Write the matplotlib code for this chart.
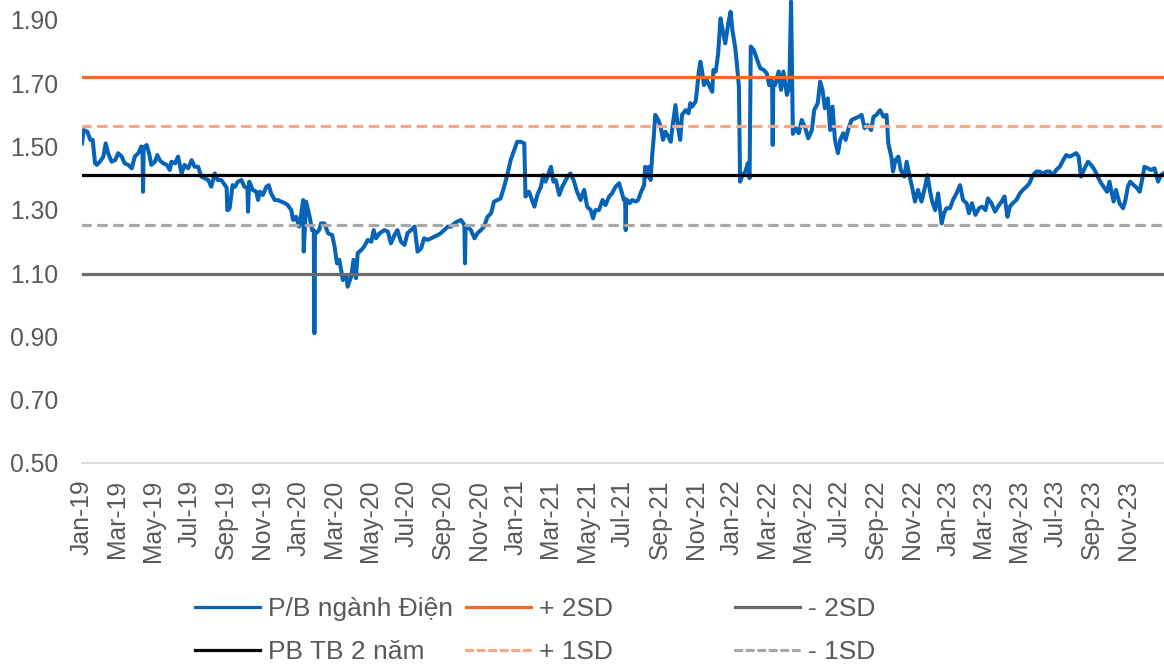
import numpy as np
import pandas as pd
import matplotlib
matplotlib.use('Agg')
import matplotlib.pyplot as plt
from matplotlib.lines import Line2D

plt.rcParams['font.family'] = ['Liberation Sans', 'DejaVu Sans']

# ---------------- data ----------------
start_date = np.datetime64('2019-01-01')

day_offset = [
    0, 3, 9, 14, 18, 22, 25, 30, 36, 40, 44, 50, 56, 61, 67, 72, 78, 84, 89, 95,
    100, 102, 103, 104, 106, 109, 113, 117, 123, 127, 131, 137, 143, 148, 151, 157, 162, 168, 173, 179,
    185, 190, 196, 201, 207, 213, 218, 224, 229, 235, 241, 244, 245, 247, 249, 254, 258, 263, 269, 274,
    279, 280, 282, 288, 294, 297, 300, 305, 311, 315, 319, 325, 330, 336, 342, 347, 353, 356, 361, 366,
    370, 373, 374, 378, 384, 388, 391, 392, 393, 395, 400, 403, 409, 415, 422, 426, 430, 434, 440, 446,
    448, 454, 458, 462, 465, 471, 476, 482, 488, 492, 496,
    502, 510, 516, 521, 527, 532, 538, 544, 549, 555, 561, 566, 572, 577, 583, 589, 594, 600, 605, 611,
    617, 622, 628, 633, 639, 644, 645, 646, 647, 649, 656, 662, 667, 673, 678, 684, 690, 695, 701, 706,
    712, 718, 723, 729, 734, 740, 746, 748, 754, 759, 763, 768, 774, 778, 782, 787, 791, 795, 799, 805,
    810, 816, 821, 824, 830, 835, 841, 847, 852, 858, 862, 866, 872, 878, 883, 889, 894, 900, 906, 910,
    914, 916, 917, 918, 920, 924, 928, 934, 938, 942, 948, 950, 953, 956, 959, 962, 964, 967, 972, 976,
    980, 984, 989, 993, 996, 1001, 1005, 1009, 1012, 1018, 1023, 1026, 1029, 1035, 1037, 1040, 1043, 1046, 1049, 1054,
    1060, 1063, 1065, 1069, 1073, 1077, 1081, 1085, 1090, 1094, 1097, 1102, 1105, 1108, 1110, 1114, 1119, 1123, 1126, 1128,
    1133, 1138, 1144, 1150, 1155, 1159, 1163, 1164, 1165, 1166, 1169, 1175,
    1179, 1183, 1189, 1193, 1196, 1199, 1204, 1209, 1214, 1220, 1225, 1231, 1235, 1241, 1245, 1249, 1253, 1258, 1262, 1266,
    1270, 1275, 1279, 1284, 1288, 1293, 1298, 1304, 1310, 1315, 1320, 1325, 1331, 1335, 1340, 1346, 1352, 1357, 1360, 1365,
    1368, 1372, 1377, 1381, 1387, 1391, 1396, 1400, 1405, 1410, 1416, 1422, 1426, 1430, 1434, 1439, 1444, 1450, 1454, 1458,
    1464, 1469, 1475, 1481, 1486, 1492, 1496, 1501, 1507, 1513, 1518, 1524, 1528, 1534, 1540, 1545, 1551, 1556, 1561, 1565,
    1570, 1576, 1582, 1587, 1593, 1598, 1604, 1610, 1615, 1621, 1627, 1632, 1638, 1643, 1649, 1655, 1660, 1666, 1671, 1677,
    1681, 1685, 1691, 1697, 1702, 1708, 1713, 1719, 1725, 1729, 1733, 1737, 1740, 1744, 1750, 1756, 1760, 1764, 1768, 1774,
    1780, 1784, 1788, 1792, 1798, 1803, 1809, 1815, 1820, 1824,
]

pb_values = [
    1.510, 1.552, 1.547, 1.521, 1.521, 1.447, 1.442, 1.452, 1.468, 1.510, 1.479, 1.452, 1.457, 1.479, 1.468, 1.447, 1.442, 1.431, 1.468, 1.479,
    1.500, 1.495, 1.357, 1.495, 1.500, 1.505, 1.479, 1.442, 1.452, 1.473, 1.457, 1.447, 1.442, 1.426, 1.452, 1.447, 1.468, 1.415, 1.442, 1.431,
    1.457, 1.436, 1.436, 1.405, 1.400, 1.394, 1.373, 1.415, 1.394, 1.394, 1.378, 1.370, 1.299, 1.300, 1.305, 1.378, 1.373, 1.389, 1.394, 1.373,
    1.370, 1.294, 1.389, 1.363, 1.357, 1.331, 1.357, 1.347, 1.373, 1.378, 1.352, 1.331, 1.331, 1.326, 1.321, 1.315, 1.299, 1.268, 1.278, 1.247,
    1.289, 1.331, 1.168, 1.326, 1.278, 1.236, 1.236, 0.910, 1.226, 1.226, 1.236, 1.257, 1.257, 1.226, 1.220, 1.184, 1.131, 1.142, 1.078, 1.089,
    1.057, 1.089, 1.142, 1.084, 1.163, 1.173, 1.184, 1.205, 1.199, 1.236, 1.210,
    1.226, 1.236, 1.231, 1.194, 1.220, 1.236, 1.199, 1.189, 1.226, 1.236, 1.247, 1.168, 1.178, 1.210, 1.205, 1.210, 1.215, 1.220, 1.226, 1.236,
    1.247, 1.247, 1.257, 1.263, 1.268, 1.255, 1.250, 1.131, 1.247, 1.247, 1.236, 1.210, 1.226, 1.236, 1.247, 1.278, 1.289, 1.326, 1.331, 1.336,
    1.373, 1.415, 1.457, 1.489, 1.515, 1.515, 1.510, 1.342, 1.357, 1.331, 1.310, 1.347, 1.373, 1.410, 1.389, 1.415, 1.436, 1.389, 1.394, 1.347,
    1.373, 1.394, 1.410, 1.415, 1.389, 1.357, 1.331, 1.363, 1.310, 1.299, 1.273, 1.299, 1.299, 1.331, 1.315, 1.342, 1.352, 1.373, 1.384, 1.357,
    1.331, 1.335, 1.236, 1.330, 1.331, 1.321, 1.331, 1.326, 1.331, 1.352, 1.378, 1.436, 1.405, 1.436, 1.394, 1.479, 1.521, 1.600, 1.584, 1.563,
    1.521, 1.547, 1.531, 1.515, 1.563, 1.631, 1.563, 1.521, 1.600, 1.615, 1.605, 1.637, 1.626, 1.642, 1.673, 1.731, 1.768, 1.737, 1.694, 1.710,
    1.684, 1.673, 1.742, 1.737, 1.794, 1.905, 1.863, 1.826, 1.889, 1.926, 1.868, 1.810, 1.752, 1.689, 1.389, 1.410, 1.421, 1.447, 1.400, 1.816,
    1.805, 1.779, 1.747, 1.742, 1.731, 1.694, 1.710, 1.705, 1.505, 1.700, 1.694, 1.737,
    1.679, 1.737, 1.663, 1.689, 1.958, 1.540, 1.558, 1.542, 1.584, 1.558, 1.526, 1.552, 1.615, 1.637, 1.705, 1.679, 1.621, 1.652, 1.552, 1.626,
    1.521, 1.479, 1.521, 1.542, 1.521, 1.558, 1.584, 1.589, 1.594, 1.600, 1.558, 1.568, 1.552, 1.594, 1.600, 1.615, 1.594, 1.600, 1.510, 1.468,
    1.421, 1.457, 1.468, 1.426, 1.405, 1.452, 1.405, 1.373, 1.326, 1.363, 1.326, 1.373, 1.410, 1.363, 1.326, 1.299, 1.352, 1.257, 1.289, 1.305,
    1.305, 1.331, 1.352, 1.378, 1.331, 1.321, 1.289, 1.321, 1.284, 1.305, 1.310, 1.299, 1.336, 1.321, 1.294, 1.310, 1.326, 1.342, 1.278, 1.310,
    1.321, 1.331, 1.352, 1.363, 1.373, 1.384, 1.410, 1.421, 1.421, 1.415, 1.421, 1.421, 1.410, 1.426, 1.436, 1.457, 1.473, 1.468, 1.473, 1.479,
    1.468, 1.405, 1.431, 1.452, 1.442, 1.426, 1.405, 1.384, 1.368, 1.357, 1.389, 1.352, 1.326, 1.363, 1.321, 1.305, 1.331, 1.373, 1.389, 1.378,
    1.368, 1.357, 1.394, 1.436, 1.431, 1.426, 1.431, 1.389, 1.410, 1.415,
]

mean_2y = 1.409
plus_2sd = 1.719
plus_1sd = 1.564
minus_1sd = 1.253
minus_2sd = 1.098

series_names = ['P/B ngành Điện', '+ 2SD', '- 2SD', 'PB TB 2 năm', '+ 1SD', '- 1SD']

y_ticks = [0.50, 0.70, 0.90, 1.10, 1.30, 1.50, 1.70, 1.90]
x_tick_labels = ['Jan-19', 'Mar-19', 'May-19', 'Jul-19', 'Sep-19', 'Nov-19',
                 'Jan-20', 'Mar-20', 'May-20', 'Jul-20', 'Sep-20', 'Nov-20',
                 'Jan-21', 'Mar-21', 'May-21', 'Jul-21', 'Sep-21', 'Nov-21',
                 'Jan-22', 'Mar-22', 'May-22', 'Jul-22', 'Sep-22', 'Nov-22',
                 'Jan-23', 'Mar-23', 'May-23', 'Jul-23', 'Sep-23', 'Nov-23']

# ---------------- plot ----------------
dates = start_date + np.array(day_offset).astype('timedelta64[D]')
tick_dates = pd.to_datetime(x_tick_labels, format='%b-%y')

W, H = 1164, 666
fig = plt.figure(figsize=(W / 100, H / 100), dpi=100)
ax = fig.add_axes([82 / W, (H - 463) / H, (W - 82) / W, 463 / H])

c_blue = '#0563B8'
c_orange = '#F36B22'
c_lorange = '#F5A982'
c_black = '#000000'
c_dgray = '#6B6B6B'
c_lgray = '#A8A8A8'

lw_main = 2.9
lw_ref = 2.3
dash = (2.5, 2.5)

ax.plot(dates, pb_values, color=c_blue, lw=lw_main, solid_joinstyle='round', zorder=2)
ax.axhline(plus_2sd, color=c_orange, lw=lw_ref, zorder=3)
ax.axhline(minus_2sd, color=c_dgray, lw=lw_ref, zorder=3)
ax.axhline(mean_2y, color=c_black, lw=lw_ref, zorder=3)
ax.axhline(plus_1sd, color=c_lorange, lw=lw_ref, dashes=dash, dash_capstyle='round', zorder=3)
ax.axhline(minus_1sd, color=c_lgray, lw=lw_ref, dashes=dash, dash_capstyle='round', zorder=3)

ax.set_xlim(start_date, start_date + np.timedelta64(1825, 'D'))
ax.set_ylim(0.50, 1.963)

for s in ['left', 'right', 'top']:
    ax.spines[s].set_visible(False)
ax.spines['bottom'].set_color('#D9D9D9')
ax.spines['bottom'].set_linewidth(1.3)

tc = '#595959'
fs = 17.8
fs_leg = 19.0
ax.set_yticks(y_ticks)
ax.set_yticklabels([f'{v:.2f}' for v in y_ticks], fontsize=fs, color=tc)
ax.set_xticks(tick_dates)
ax.set_xticklabels(x_tick_labels, rotation=90, fontsize=fs, color=tc, va='top', ha='center')
ax.tick_params(axis='y', length=0, pad=17)
ax.tick_params(axis='x', length=0, pad=12)

# legend: three columns positioned independently
handles = [
    Line2D([], [], color=c_blue, lw=lw_ref),
    Line2D([], [], color=c_orange, lw=lw_ref),
    Line2D([], [], color=c_dgray, lw=lw_ref),
    Line2D([], [], color=c_black, lw=lw_ref),
    Line2D([], [], color=c_lorange, lw=lw_ref, dashes=(2.0, 1.6), dash_capstyle='round'),
    Line2D([], [], color=c_lgray, lw=lw_ref, dashes=(2.0, 1.6), dash_capstyle='round'),
]
col_x = [195, 466, 735]
for ci in range(3):
    hs = [handles[ci], handles[ci + 3]]
    ls = [series_names[ci], series_names[ci + 3]]
    leg = fig.legend(hs, ls, loc='center left',
                     bbox_to_anchor=(col_x[ci] / W, (H - 630.5) / H),
                     frameon=False, borderpad=0, borderaxespad=0,
                     handlelength=2.46, handletextpad=0.3, labelspacing=0.74,
                     prop={'size': fs_leg})
    for t in leg.get_texts():
        t.set_color(tc)

fig.savefig('out.png', dpi=100)
